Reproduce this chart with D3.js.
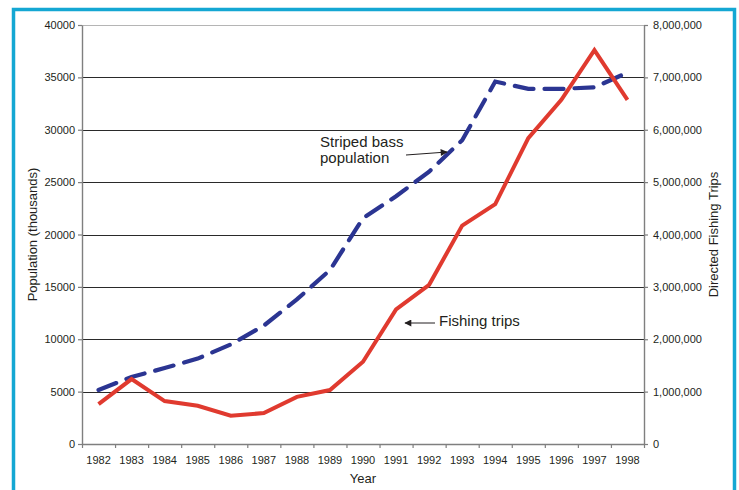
<!DOCTYPE html>
<html>
<head>
<meta charset="utf-8">
<script src="https://cdn.jsdelivr.net/npm/d3@7"></script>
<style>
  html, body { margin: 0; padding: 0; background: #fff; }
  svg { display: block; font-family: "Liberation Sans", Arial, sans-serif; }
</style>
</head>
<body>
<svg id="chart" width="739" height="490"></svg>
<script>
// Striped bass population vs. directed fishing trips, 1982-1998
const years = [1982, 1983, 1984, 1985, 1986, 1987, 1988, 1989, 1990,
               1991, 1992, 1993, 1994, 1995, 1996, 1997, 1998];
// Population, thousands of fish (left axis)
const population = [5150, 6400, 7250, 8150, 9500, 11300, 13800, 16600, 21550,
                    23650, 26000, 29000, 34600, 33900, 33900, 34050, 35450];
// Directed fishing trips (right axis)
const trips = [760000, 1240000, 820000, 730000, 540000, 590000, 900000, 1030000, 1570000,
               2570000, 3040000, 4170000, 4580000, 5840000, 6570000, 7520000, 6570000];
const popTicks = [0, 5000, 10000, 15000, 20000, 25000, 30000, 35000, 40000];
const tripTicks = [0, 1000000, 2000000, 3000000, 4000000, 5000000, 6000000, 7000000, 8000000];

const svg = d3.select("#chart");
const plot = { left: 82, right: 644, top: 25, bottom: 444 };
const textColor = "#231f20";

// outer frame
svg.append("rect")
  .attr("x", 13.5).attr("y", 9.5)
  .attr("width", 721).attr("height", 500)
  .attr("fill", "#fff")
  .attr("stroke", "#14a7d3").attr("stroke-width", 3.5);

const x = d3.scaleBand().domain(years).range([plot.left, plot.right]).padding(0);
const xEdge = d3.scaleLinear().domain([0, years.length]).range([plot.left, plot.right]);
const yL = d3.scaleLinear().domain([0, 40000]).range([plot.bottom, plot.top]);
const yR = d3.scaleLinear().domain([0, 8000000]).range([plot.bottom, plot.top]);
const cx = d => x(d) + x.bandwidth() / 2;

// horizontal gridlines
svg.append("g").selectAll("line")
  .data(popTicks.filter(d => d > 0))
  .join("line")
  .attr("x1", plot.left).attr("x2", plot.right)
  .attr("y1", d => Math.round(yL(d)) + 0.5).attr("y2", d => Math.round(yL(d)) + 0.5)
  .attr("stroke", d => d === 40000 ? "#b5b5b5" : "#2a2a2a")
  .attr("stroke-width", 1);

function styleAxis(g) {
  g.selectAll(".domain").attr("stroke", "#7f7f7f").attr("stroke-width", 1.4);
  g.selectAll(".tick line").attr("stroke", "#7f7f7f").attr("stroke-width", 1.2);
  g.selectAll("text").attr("fill", textColor).attr("font-size", 11)
    .attr("font-family", "Liberation Sans, Arial, sans-serif");
}

// left axis
svg.append("g")
  .attr("transform", `translate(${plot.left},0)`)
  .call(d3.axisLeft(yL).tickValues(popTicks).tickFormat(d3.format("d"))
        .tickSize(4).tickSizeOuter(0).tickPadding(3))
  .call(styleAxis);

// right axis
svg.append("g")
  .attr("transform", `translate(${plot.right},0)`)
  .call(d3.axisRight(yR).tickValues(tripTicks).tickFormat(d3.format(","))
        .tickSize(4).tickSizeOuter(0).tickPadding(5))
  .call(styleAxis);

// bottom axis: tick marks on category edges, labels centred in each band
svg.append("g")
  .attr("transform", `translate(0,${plot.bottom})`)
  .call(d3.axisBottom(xEdge).tickValues(d3.range(years.length + 1)).tickFormat("")
        .tickSize(4).tickSizeOuter(0))
  .call(styleAxis);
svg.append("g")
  .attr("transform", `translate(0,${plot.bottom})`)
  .call(d3.axisBottom(x).tickSize(0).tickPadding(12))
  .call(g => g.select(".domain").remove())
  .call(styleAxis);

// series lines
const popLine = d3.line().x((d, i) => cx(years[i])).y(d => yL(d));
const tripLine = d3.line().x((d, i) => cx(years[i])).y(d => yR(d));

svg.append("path")
  .datum(population)
  .attr("d", popLine)
  .attr("fill", "none")
  .attr("stroke", "#2b3592")
  .attr("stroke-width", 4.2)
  .attr("stroke-dasharray", "19,11")
  .attr("stroke-linecap", "round");

svg.append("path")
  .datum(trips)
  .attr("d", tripLine)
  .attr("fill", "none")
  .attr("stroke", "#e03a2f")
  .attr("stroke-width", 4)
  .attr("stroke-linejoin", "miter");

// axis titles
svg.append("text")
  .attr("transform", `translate(37,${(plot.top + plot.bottom) / 2}) rotate(-90)`)
  .attr("text-anchor", "middle")
  .attr("font-size", 13).attr("fill", textColor)
  .text("Population (thousands)");
svg.append("text")
  .attr("transform", `translate(718,${(plot.top + plot.bottom) / 2}) rotate(-90)`)
  .attr("text-anchor", "middle")
  .attr("font-size", 13).attr("fill", textColor)
  .text("Directed Fishing Trips");
svg.append("text")
  .attr("x", (plot.left + plot.right) / 2).attr("y", 483)
  .attr("text-anchor", "middle")
  .attr("font-size", 13).attr("fill", textColor)
  .text("Year");

// annotations with arrows
const defs = svg.append("defs");
defs.append("marker")
  .attr("id", "arrowhead")
  .attr("viewBox", "0 0 10 10")
  .attr("refX", 9).attr("refY", 5)
  .attr("markerWidth", 9).attr("markerHeight", 7)
  .attr("markerUnits", "userSpaceOnUse")
  .attr("orient", "auto")
  .append("path").attr("d", "M0,0 L10,5 L0,10 Z").attr("fill", "#231f20");

const note = svg.append("g").attr("font-size", 15).attr("fill", textColor);
note.append("text").attr("x", 320).attr("y", 147).text("Striped bass");
note.append("text").attr("x", 320).attr("y", 163).text("population");
note.append("text").attr("x", 439).attr("y", 326).text("Fishing trips");

svg.append("line")
  .attr("x1", 406).attr("y1", 155).attr("x2", 447).attr("y2", 152)
  .attr("stroke", "#231f20").attr("stroke-width", 1)
  .attr("marker-end", "url(#arrowhead)");
svg.append("line")
  .attr("x1", 435).attr("y1", 323).attr("x2", 405).attr("y2", 323)
  .attr("stroke", "#231f20").attr("stroke-width", 1)
  .attr("marker-end", "url(#arrowhead)");
</script>
</body>
</html>
